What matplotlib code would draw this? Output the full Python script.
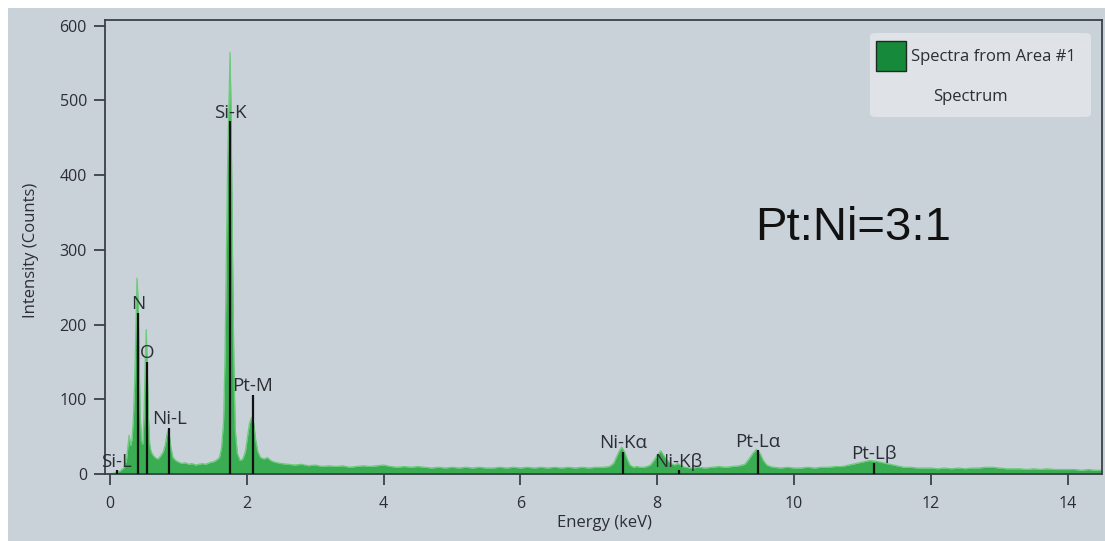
import matplotlib
matplotlib.use("Agg")
import matplotlib.pyplot as plt
from matplotlib.patches import FancyBboxPatch, Rectangle

# ---------------- data ----------------
energy_kev = [
    0.00, 0.05, 0.10, 0.15, 0.20, 0.24, 0.26, 0.28, 0.30, 0.32, 0.34, 0.36, 0.38, 0.395,
    0.41, 0.425, 0.44, 0.46, 0.48, 0.50, 0.515, 0.53, 0.545, 0.56, 0.58, 0.60, 0.63, 0.66,
    0.70, 0.74, 0.78, 0.81, 0.83, 0.85, 0.87, 0.89, 0.92, 0.96, 1.00, 1.05, 1.10, 1.15,
    1.20, 1.25, 1.30, 1.35, 1.40, 1.45, 1.50, 1.55, 1.60, 1.63, 1.66, 1.68, 1.70, 1.72,
    1.74, 1.755, 1.77, 1.79, 1.81, 1.83, 1.86, 1.90, 1.94, 1.98, 2.01, 2.04, 2.07, 2.10,
    2.13, 2.16, 2.20, 2.25, 2.30, 2.35, 2.40, 2.50, 2.60, 2.70, 2.80, 2.90, 3.00, 3.10,
    3.20, 3.30, 3.40, 3.50, 3.60, 3.70, 3.80, 3.90, 4.00, 4.10, 4.20, 4.30, 4.40, 4.50,
    4.60, 4.70, 4.80, 4.90, 5.00, 5.10, 5.20, 5.30, 5.40, 5.50, 5.60, 5.70, 5.80, 5.90,
    6.00, 6.10, 6.20, 6.30, 6.40, 6.50, 6.60, 6.70, 6.80, 6.90, 7.00, 7.10, 7.20, 7.30,
    7.36, 7.40, 7.44, 7.48, 7.52, 7.56, 7.60, 7.65, 7.70, 7.75, 7.80, 7.85, 7.90, 7.95,
    8.00, 8.05, 8.10, 8.15, 8.20, 8.25, 8.30, 8.35, 8.40, 8.50, 8.60, 8.70, 8.80, 8.90,
    9.00, 9.10, 9.20, 9.28, 9.34, 9.40, 9.45, 9.50, 9.55, 9.60, 9.65, 9.70, 9.80, 9.90,
    10.0, 10.1, 10.2, 10.3, 10.4, 10.5, 10.6, 10.7, 10.8, 10.9, 11.0, 11.1, 11.2, 11.3,
    11.4, 11.5, 11.6, 11.7, 11.8, 11.9, 12.0, 12.1, 12.2, 12.3, 12.4, 12.5, 12.6, 12.7,
    12.8, 12.9, 13.0, 13.1, 13.2, 13.3, 13.4, 13.5, 13.6, 13.7, 13.8, 13.9, 14.0, 14.1,
    14.2, 14.3, 14.4, 14.5,
]
counts = [
    0, 1, 2, 4, 8, 18, 35, 52, 38, 45, 70, 120, 200, 262,
    232, 160, 80, 45, 40, 85, 150, 193, 140, 80, 40, 30, 25, 22,
    20, 24, 30, 40, 52, 58, 50, 35, 22, 18, 16, 14, 15, 13,
    14, 12, 13, 14, 13, 15, 16, 18, 22, 35, 70, 150, 280, 420,
    500, 564, 480, 300, 150, 60, 28, 18, 20, 30, 50, 68, 76, 68,
    45, 30, 22, 20, 22, 18, 16, 14, 13, 12, 13, 11, 12, 10,
    11, 10, 11, 9, 10, 11, 10, 11, 12, 10, 9, 10, 9, 10,
    9, 8, 9, 8, 9, 8, 9, 8, 9, 8, 8, 9, 8, 9,
    8, 9, 8, 9, 8, 9, 8, 9, 8, 9, 8, 9, 9, 10,
    14, 22, 30, 36, 30, 20, 12, 9, 10, 9, 9, 10, 12, 18,
    25, 31, 24, 18, 14, 12, 14, 11, 9, 8, 9, 8, 9, 10,
    9, 10, 11, 13, 20, 28, 33, 28, 18, 12, 10, 9, 8, 9,
    8, 8, 9, 8, 9, 9, 10, 10, 12, 14, 16, 18, 17, 15,
    13, 11, 9, 9, 8, 8, 8, 7, 8, 7, 8, 7, 8, 8,
    9, 9, 8, 7, 7, 7, 6, 7, 6, 7, 6, 6, 6, 6,
    5, 6, 5, 5,
]

peak_labels = ["Si-L", "N", "O", "Ni-L", "Si-K", "Pt-M", "Ni-K\u03b1", "Ni-K\u03b2", "Pt-L\u03b1", "Pt-L\u03b2"]
peak_energy = [0.10, 0.41, 0.545, 0.865, 1.755, 2.09, 7.50, 8.31, 9.47, 11.17]
peak_height = [5, 216, 150, 62, 472, 106, 30, 5, 32, 15]

x_ticks = [0, 2, 4, 6, 8, 10, 12, 14]
y_ticks = [0, 100, 200, 300, 400, 500, 600]

legend_title = "Spectra from Area #1"
legend_sub = "Spectrum"
annotation = "Pt:Ni=3:1"

# ---------------- style ----------------
W, H = 1105, 541
BG = "#c9d1d9"
FONT = ["Open Sans", "DejaVu Sans"]
plt.rcParams["font.family"] = FONT
TXT = "#2b2f33"

fig = plt.figure(figsize=(W / 100, H / 100), dpi=100, facecolor="white")
fig.patches.append(Rectangle((8 / W, 0), 1, 1 - 8 / H, transform=fig.transFigure,
                             facecolor=BG, edgecolor="none", zorder=-10))

def px(x, y):
    return x / W, 1 - y / H

l, t = px(105, 20)
r, b = px(1102, 474)
ax = fig.add_axes([l, b, r - l, t - b])
ax.set_facecolor(BG)

ax.fill_between(energy_kev, counts, 0, color="#3aad52", linewidth=0, zorder=2)
ax.plot(energy_kev, counts, color="#6acb79", linewidth=0.9, zorder=2)

for lab, e, h in zip(peak_labels, peak_energy, peak_height):
    ax.vlines(e, 0, h, color="#111111", linewidth=1.6, zorder=3)
    ax.annotate(lab, (e, h), xytext=(0, 2.5), textcoords="offset points",
                ha="center", va="baseline", fontsize=13.5, color=TXT, zorder=4)

ax.set_xlim(-0.073, 14.50)
ax.set_ylim(0, 607.5)
ax.set_xticks(x_ticks)
ax.set_yticks(y_ticks)
ax.tick_params(direction="out", length=8, width=1.3, color="#3a4048",
               labelsize=11.5, labelcolor=TXT)
ax.tick_params(axis="x", pad=8)
ax.tick_params(axis="y", pad=5)
for s in ax.spines.values():
    s.set_color("#3a4048")
    s.set_linewidth(1.3)

fig.text(*px(31, 250), "Intensity (Counts)", rotation=90, ha="center", va="center",
         fontsize=12, color=TXT)
fig.text(*px(604, 523), "Energy (keV)", ha="center", va="center", fontsize=12, color=TXT)

ax.text(*px(755, 240), annotation, transform=fig.transFigure, ha="left", va="baseline",
        fontsize=34, family=["Liberation Sans", "DejaVu Sans"], color="#111111")

# legend box
lx0, ly0 = px(870, 117)
lx1, ly1 = px(1091, 33)
fig.patches.append(FancyBboxPatch((lx0, ly0), lx1 - lx0, ly1 - ly0,
                                  boxstyle="round,pad=0,rounding_size=0.006",
                                  transform=fig.transFigure, facecolor="#dfe3e8",
                                  edgecolor="none", zorder=5))
sx0, sy0 = px(876, 71)
sx1, sy1 = px(906, 41)
fig.patches.append(Rectangle((sx0, sy0), sx1 - sx0, sy1 - sy0, transform=fig.transFigure,
                             facecolor="#16893a", edgecolor="#1d2a22", linewidth=1, zorder=6))
fig.text(*px(911, 57), legend_title, ha="left", va="center", fontsize=12, color=TXT, zorder=7)
fig.text(*px(970, 97), legend_sub, ha="center", va="center", fontsize=12, color=TXT, zorder=7)

fig.savefig("out.png", dpi=100, facecolor="white")
